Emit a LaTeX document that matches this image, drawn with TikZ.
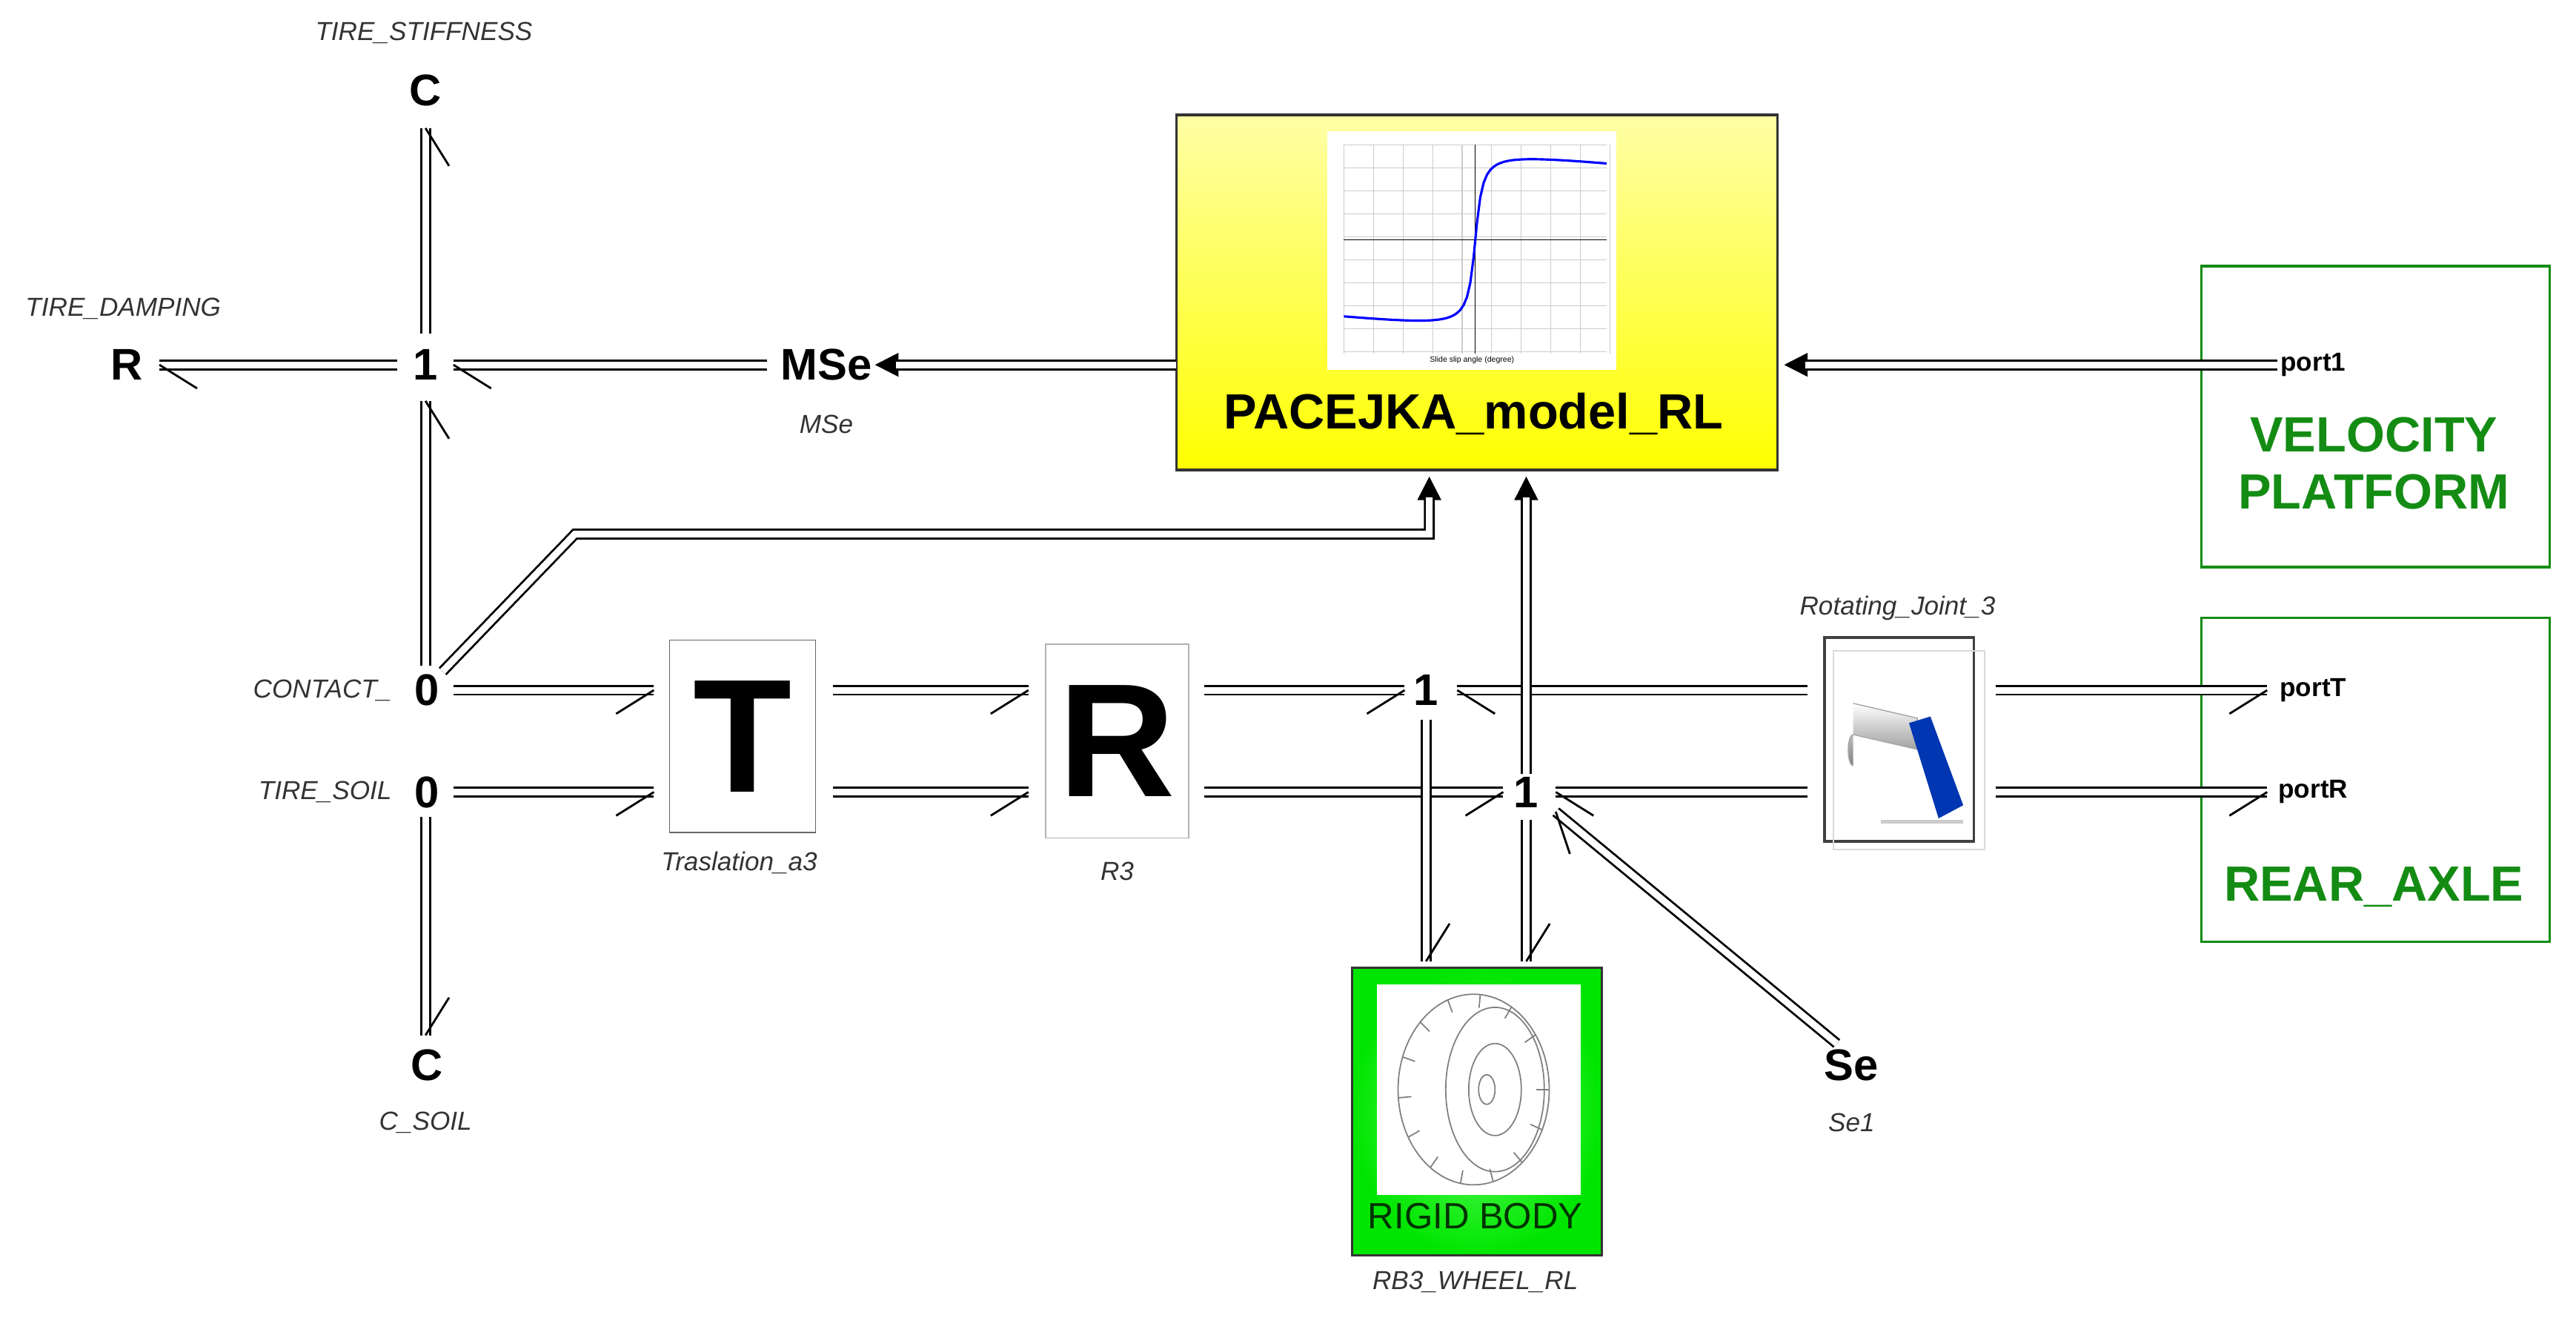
\documentclass[tikz,border=0pt]{standalone}
\usepackage{fontspec}
\setmainfont{Liberation Sans}
\usetikzlibrary{arrows.meta,calc}
\definecolor{dgreen}{RGB}{20,140,20}
\begin{document}
\begin{tikzpicture}[x=0.02217cm,y=-0.02217cm,
  lab/.style={font=\fontsize{10}{12}\selectfont\itshape, text=black!80},
  el/.style={font=\fontsize{17}{20}\selectfont\bfseries, inner sep=1pt},
  port/.style={font=\fontsize{10}{12}\selectfont\bfseries, inner sep=1pt},
  dbl/.style={draw=black, double=white, double distance=2.6pt, line width=0.8pt},
  barb/.style={line width=0.8pt},
  tri/.style={line width=0.8pt,-{Triangle[length=9pt,width=9pt]}},
  gbox/.style={draw=dgreen, line width=1pt},
]
\useasboundingbox (0,0) rectangle (1568,802);
% element nodes
\node[el] (Ct) at (259,55) {C};
\node[lab] at (258,20) {TIRE\_STIFFNESS};
\node[el] (Rd) at (77,222) {R};
\node[lab] at (75,188) {TIRE\_DAMPING};
\node[el] (J1) at (259,222) {1};
\node[el] (MSe) at (503,222) {MSe};
\node[lab] at (503,258) {MSe};
\node[el] (Z1) at (260,420) {0};
\node[lab,anchor=east] at (244,420) {CONTACT\_};
\node[el] (Z2) at (260,482) {0};
\node[lab,anchor=east] at (244,482) {TIRE\_SOIL};
\node[el] (Cb) at (260,648) {C};
\node[lab] at (259,683) {C\_SOIL};
\node[el] (J2) at (868,420) {1};
\node[el] (J3) at (929,482) {1};
\node[el] (Se) at (1127,648) {Se};
\node[lab] at (1127,683) {Se1};
% PACEJKA
\shade[top color=yellow!35, bottom color=yellow, draw=black!80, line width=1pt] (716,70) rectangle (1082,286);
\coordinate (PL) at (716,222);
\fill[white] (808,80) rectangle (984,225);
\begin{scope}
\foreach \x in {818,836,...,980} \draw[black!20,line width=0.3pt] (\x,88) -- (\x,215);
\foreach \y in {88,102,...,215} \draw[black!20,line width=0.3pt] (818,\y) -- (978,\y);
\draw[black,line width=0.4pt] (818,146) -- (978,146);
\draw[black,line width=0.4pt] (898,88) -- (898,215);
\draw[blue,line width=0.9pt] plot[domain=-4:4,samples=80] ({898+20*\x},{146-56*rad(atan(6*\x))/1.5708+2*\x});
\node[font=\fontsize{3}{3}\selectfont] at (896,219) {Slide slip angle (degree)};
\end{scope}
\node[font=\fontsize{19}{22}\selectfont\bfseries] at (897,252) {PACEJKA\_model\_RL};
% velocity platform / rear axle
\draw[gbox] (1340,162) rectangle (1552,345);
\node[font=\fontsize{19}{22}\selectfont\bfseries, text=dgreen, align=center] at (1445,282) {VELOCITY\\PLATFORM};
\node[port] (p1) at (1408,222) {port1};
\draw[gbox] (1340,376) rectangle (1552,573);
\node[port] (pT) at (1408,420) {portT};
\node[port] (pR) at (1408,482) {portR};
\node[font=\fontsize{19}{22}\selectfont\bfseries, text=dgreen] at (1445,540) {REAR\_AXLE};
% T and R boxes
\node[draw=black!60, minimum width=89*0.02217cm, minimum height=117*0.02217cm, font=\fontsize{62}{62}\selectfont\bfseries, inner sep=0] (T) at (452,448) {T};
\node[lab] at (450,525) {Traslation\_a3};
\node[draw=black!30, minimum width=87*0.02217cm, minimum height=118*0.02217cm, font=\fontsize{62}{62}\selectfont\bfseries, inner sep=0] (R3) at (680,451) {R};
\node[lab] at (680,530) {R3};
% rotating joint
\node[draw=black!75, line width=1pt, minimum width=91*0.02217cm, minimum height=124*0.02217cm, inner sep=0] (RJ) at (1156,450) {};
\draw[black!15] (1116,396) rectangle (1208,517);
\node[lab] at (1155,370) {Rotating\_Joint\_3};
\shade[top color=white, bottom color=gray, draw=gray!70] (1128,428) -- (1167,437) -- (1167,456) -- (1128,447) arc (270:90:3 and 9.5);
\fill[blue!70!cyan!70!black] (1162,440) -- (1175,436) -- (1195,490) -- (1180,498) -- cycle;
\draw[black!20,line width=1.5pt] (1145,500) -- (1195,500);
% rigid body
\shade[inner color=green!60, outer color=green!90!black, draw=black!80, line width=1pt] (823,589) rectangle (975,764);
\fill[white] (838,599) rectangle (962,727);
\begin{scope}[gray, line width=0.5pt]
\draw (897,663) ellipse (46 and 58);
\draw (910,663) ellipse (30 and 50);
\draw (910,663) ellipse (16 and 28);
\draw (905,663) ellipse (5 and 9);
\foreach \a in {0,25,...,335} \draw ($(897,663)+(\a:46 and 58)$) -- ($(897,663)+(\a:38 and 50)$);
\end{scope}
\node[font=\fontsize{14}{16}\selectfont, text=black!80!green] at (898,740) {RIGID BODY};
\node[lab] at (898,780) {RB3\_WHEEL\_RL};
% ---- bonds: double line + half-arrow barb at end ----
\newcommand{\hbond}[3]{\draw[dbl] #2 -- #3; \draw[barb] #3 -- ($#3!0.6cm!#1:#2$);}
\hbond{32}{(259,203)}{(259,78)}
\hbond{-32}{(242,222)}{(97,222)}
\hbond{-32}{(467,222)}{(276,222)}
\hbond{32}{(259,405)}{(259,244)}
\hbond{-32}{(259,497)}{(259,630)}
\hbond{32}{(276,420)}{(398,420)}
\hbond{32}{(276,482)}{(398,482)}
\hbond{32}{(507,420)}{(626,420)}
\hbond{32}{(507,482)}{(626,482)}
\hbond{32}{(733,420)}{(855,420)}
\hbond{32}{(733,482)}{(915,482)}
\hbond{-32}{(1100,420)}{(887,420)}
\hbond{-32}{(1100,482)}{(947,482)}
\hbond{32}{(1215,420)}{(1380,420)}
\hbond{32}{(1215,482)}{(1380,482)}
\hbond{-32}{(868,438)}{(868,585)}
\hbond{-32}{(929,499)}{(929,585)}
\hbond{-32}{(1118,635)}{(947,494)}
% ---- signal arrows ----
\draw[tri] (PL) -- (MSe.east);
\draw[dbl, shorten >=8pt] (PL) -- (MSe.east);
\draw[tri] (p1.west) -- (1086,222);
\draw[dbl, shorten >=8pt] (p1.west) -- (1086,222);
\draw[tri] (Z1.north east) -- (350,325) -- (870,325) -- (870,290);
\draw[dbl, shorten >=8pt] (Z1.north east) -- (350,325) -- (870,325) -- (870,290);
\draw[tri] (J3.north) -- (929,290);
\draw[dbl, shorten >=8pt] (J3.north) -- (929,290);
\end{tikzpicture}
\end{document}
